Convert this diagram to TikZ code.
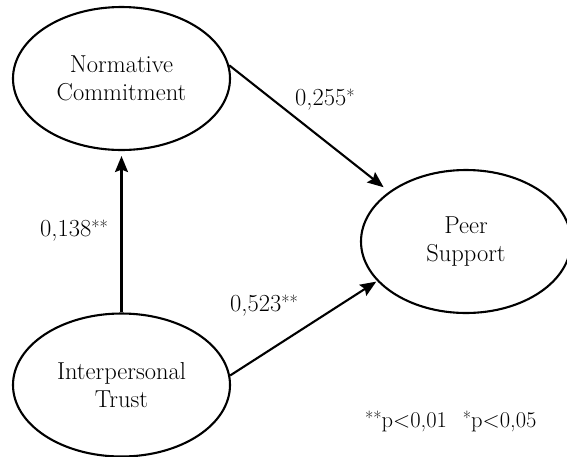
\documentclass[tikz,border=0pt]{standalone}
\usetikzlibrary{shapes.geometric,arrows.meta}
\newcommand\sstar{\raisebox{2.5pt}{\fontsize{18}{18}\selectfont*}}
\begin{document}
\begin{tikzpicture}[x=1pt,y=-1pt,
  every node/.style={font=\fontsize{24.5}{28}\selectfont},
  latent/.style={ellipse,draw,line width=2.1pt,minimum width=217pt,minimum height=143pt,inner sep=0pt,align=center},
  path/.style={line width=2.1pt,-{Stealth[length=16pt,width=13pt,inset=2.5pt]}},
  coef/.style={anchor=base west,inner sep=0pt}]
\useasboundingbox (0,0) rectangle (567,456);
\node[latent] (nc) at (121.5,78.5) {Normative\\Commitment};
\node[latent,minimum width=210pt] (ps) at (466,241.5) {Peer\\Support};
\node[latent] (it) at (121.5,385) {Interpersonal\\Trust};
\draw[path,shorten >=5pt] (it.north) -- (nc.south);
\draw[path,shorten >=7pt] (nc.7) -- (ps.147);
\draw[path,shorten >=1pt] (it.5) -- (ps.204);
\node[coef] (l1) at (295,105) {0,255\sstar};
\node[coef] (l2) at (40,236) {0,138\sstar\sstar};
\node[coef] (l3) at (230,311) {0,523\sstar\sstar};
\node[coef,font=\fontsize{22.5}{26}\selectfont] (fn) at (365,427) {\sstar\sstar p<0,01\hspace{16pt}\sstar p<0,05};
\end{tikzpicture}
\end{document}
